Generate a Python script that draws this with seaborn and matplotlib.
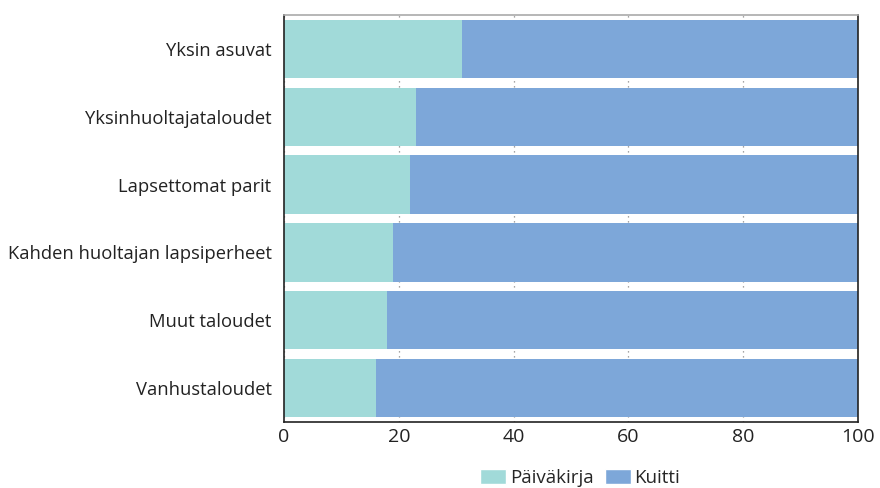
import matplotlib
matplotlib.use("Agg")
import matplotlib.pyplot as plt
import seaborn as sns
import pandas as pd
from matplotlib.patches import Patch

categories = ["Yksin asuvat", "Yksinhuoltajataloudet", "Lapsettomat parit",
              "Kahden huoltajan lapsiperheet", "Muut taloudet", "Vanhustaloudet"]
paivakirja = [31, 23, 22, 19, 18, 16]
kuitti = [69, 77, 78, 81, 82, 84]
series_names = ["Päiväkirja", "Kuitti"]
xticks = [0, 20, 40, 60, 80, 100]

sns.set_theme(style="white")
plt.rcParams['font.family'] = ['Open Sans', 'DejaVu Sans']

c1 = "#a1dad9"
c2 = "#7da7d9"

df = pd.DataFrame({"cat": categories, "p": paivakirja, "k": kuitti})
df["total"] = df["p"] + df["k"]

fig = plt.figure(figsize=(8.8, 4.88), dpi=100)
ax = fig.add_axes([284/880, 1-422/488, (858-284)/880, (422-15)/488])

sns.barplot(data=df, y="cat", x="total", color=c2, width=0.86, ax=ax, saturation=1,
            linewidth=0, zorder=2)
sns.barplot(data=df, y="cat", x="p", color=c1, width=0.86, ax=ax, saturation=1,
            linewidth=0, zorder=2.1)

ax.set_xlim(0, 100)
ax.set_ylim(5.5, -0.5)
ax.set_xticks(xticks)
ax.set_xticklabels([str(t) for t in xticks], fontsize=14, color="#222222")
ax.tick_params(axis="y", labelsize=13.2, colors="#222222", length=0, pad=9)
ax.tick_params(axis="x", length=0, pad=4)
ax.set_xlabel("")
ax.set_ylabel("")
ax.xaxis.grid(True, linestyle=(0, (1, 3)), color="#888888", linewidth=0.9, zorder=0)
ax.set_axisbelow(True)
for s in ax.spines.values():
    s.set_visible(True)
    s.set_color("#222222")
    s.set_linewidth(1.2)
    s.set_zorder(5)
ax.spines["top"].set_color("#aaaaaa")

handles = [Patch(facecolor=c1, label=series_names[0]), Patch(facecolor=c2, label=series_names[1])]
fig.legend(handles=handles, loc="center", bbox_to_anchor=(580/880, 1-478/488), ncol=2,
           frameon=False, fontsize=13.5, handlelength=1.4, handleheight=0.9,
           handletextpad=0.2, columnspacing=0.6, borderaxespad=0)

fig.savefig("out.png", dpi=100)
